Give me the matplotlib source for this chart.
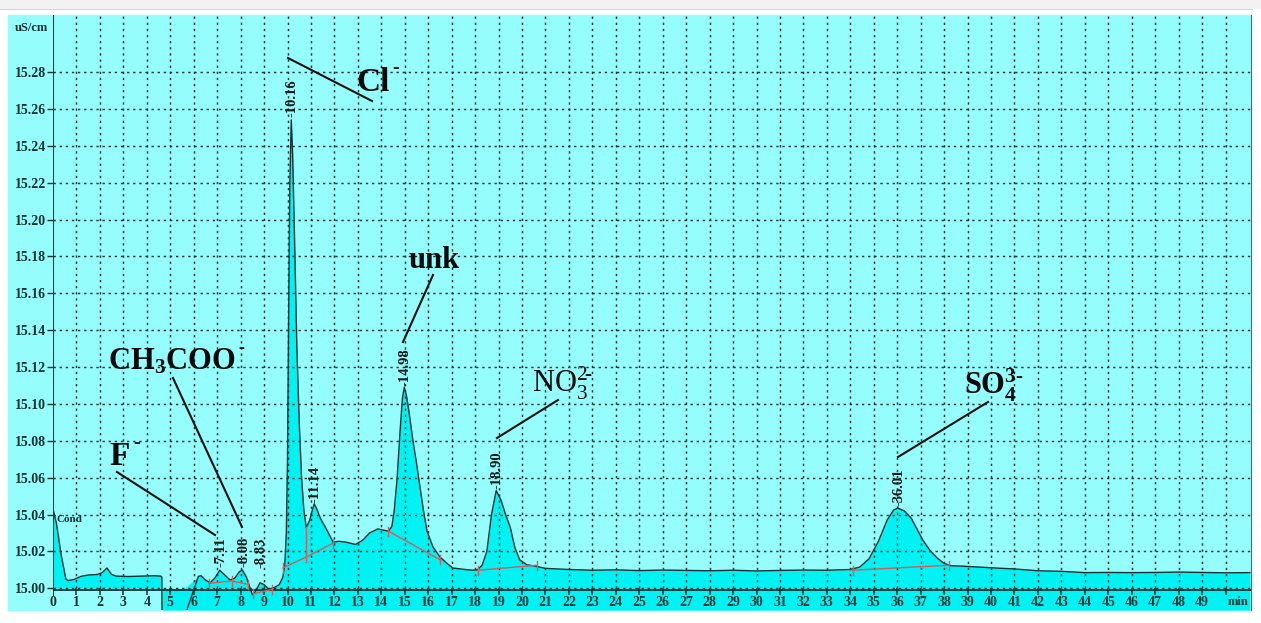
import numpy as np
import matplotlib
matplotlib.use("Agg")
import matplotlib.pyplot as plt

# ---------------- data ----------------
time_min = [0.00, 0.15, 0.35, 0.55, 0.65, 0.90, 1.20, 1.50, 1.90, 2.10, 2.30, 2.50, 2.70, 3.20, 3.80, 4.30, 4.60, 4.64,
            4.66, 5.55, 5.62, 6.20, 6.32, 6.50, 6.70, 6.90, 7.11, 7.30, 7.55, 7.75, 7.95, 8.08, 8.25, 8.38, 8.50, 8.62,
            8.83, 9.00, 9.20, 9.45, 9.65, 9.80, 9.88, 9.95, 10.00, 10.05, 10.10, 10.16, 10.22, 10.30, 10.40, 10.50,
            10.60, 10.70, 10.80, 10.95, 11.05, 11.14, 11.25, 11.40, 11.68, 11.95, 12.20, 12.50, 12.90, 13.20, 13.50,
            13.85, 14.10, 14.30, 14.45, 14.55, 14.67, 14.80, 14.90, 14.98, 15.08, 15.20, 15.35, 15.50, 15.65, 15.80,
            15.95, 16.20, 16.50, 16.80, 17.05, 17.50, 17.90, 18.10, 18.30, 18.50, 18.70, 18.90, 19.10, 19.30, 19.50,
            19.70, 19.90, 20.20, 20.65, 21.00, 22.0, 23.0, 24.0, 25.0, 26.0, 27.0, 28.0, 29.0, 30.0, 31.0, 32.0, 33.0,
            34.0, 34.40, 34.80, 35.20, 35.57, 35.85, 36.03, 36.30, 36.60, 36.85, 37.10, 37.40, 37.70, 38.00, 38.30,
            38.80, 39.50, 40.20, 41.0, 42.0, 43.0, 44.0, 45.0, 46.0, 47.0, 48.0, 49.0, 50.0, 51.04]
signal_uScm = [15.043, 15.035, 15.018, 15.005, 15.0042, 15.0048, 15.0065, 15.0072, 15.0075, 15.0085, 15.0110, 15.0075,
               15.0066, 15.0064, 15.0066, 15.0068, 15.0066, 15.0060,
               14.970, 14.970, 14.985, 15.0065, 15.0068, 15.0045, 15.0030, 15.0055, 15.0098, 15.0075, 15.0045, 15.0055,
               15.0090, 15.0098, 15.0060, 15.0010, 14.9965, 14.9980,
               15.0030, 15.0020, 14.9995, 15.0005, 15.0020, 15.0060, 15.0120, 15.0300, 15.070, 15.150, 15.220, 15.254,
               15.235, 15.190, 15.130, 15.090,
               15.060, 15.042, 15.033, 15.037, 15.042, 15.0458, 15.043, 15.038, 15.0316, 15.0250, 15.0255, 15.0250,
               15.0238, 15.0260, 15.0300,
               15.0322, 15.0315, 15.0310, 15.0335, 15.0420, 15.0590, 15.0850, 15.1030, 15.1090, 15.1040, 15.0940,
               15.0800, 15.0680, 15.0550, 15.0420,
               15.0310, 15.0225, 15.0170, 15.0135, 15.0110, 15.0103, 15.0098, 15.0100, 15.0125, 15.0200, 15.0400,
               15.0530, 15.0480, 15.0400, 15.0330,
               15.0220, 15.0155, 15.0128, 15.0118, 15.0108, 15.0102, 15.0098, 15.0100, 15.0096, 15.0099, 15.0097,
               15.0095, 15.0098, 15.0094, 15.0097, 15.0099, 15.0098,
               15.0102, 15.0115, 15.0160, 15.0255, 15.0370, 15.0425, 15.0435, 15.0420, 15.0380, 15.0320, 15.0260,
               15.0205, 15.0165, 15.0135, 15.0122,
               15.0120, 15.0115, 15.0110, 15.0105, 15.0095, 15.0092, 15.0085, 15.0086, 15.0085, 15.0086, 15.0088,
               15.0086, 15.0084, 15.0085]

# integration baselines (red)
baseline_t = [[6.65, 7.63, 8.30], [8.55, 9.35], [9.80, 10.80, 11.95], [14.30, 16.50], [18.12, 20.65], [34.10, 38.20]]
baseline_v = [[15.0027, 15.0040, 15.0022], [14.9970, 14.9995], [15.0110, 15.0170, 15.0245], [15.0310, 15.0155],
              [15.0098, 15.0125], [15.0098, 15.0125]]

# retention time labels
peak_times = [7.11, 8.08, 8.83, 10.16, 11.14, 14.98, 18.90, 36.01]
peak_labels = ["-7.11", "-8.08", "-8.83", "-10.16", "-11.14", "-14.98", "-18.90", "-36.01"]

y_ticks = [15.00, 15.02, 15.04, 15.06, 15.08, 15.10, 15.12, 15.14, 15.16, 15.18, 15.20, 15.22, 15.24, 15.26, 15.28]
x_ticks = list(range(0, 50))

# ---------------- style ----------------
W, H = 1261, 623
BG = "#96FDFD"
FILL = "#00F2F2"
DARK = "#143232"
GRID = "#1E3434"
RED = "#D85A5A"
SERIF = "Liberation Serif"
plt.rcParams["font.family"] = [SERIF, "DejaVu Serif"]
plt.rcParams["mathtext.fontset"] = "custom"
plt.rcParams["mathtext.rm"] = SERIF
plt.rcParams["mathtext.bf"] = SERIF + ":bold"
plt.rcParams["mathtext.it"] = SERIF + ":italic"


def fx(px):
    return px / W


def fy(py):
    return 1 - py / H


fig = plt.figure(figsize=(W / 100, H / 100), dpi=100, facecolor="white")

# window remnants and cyan panel (behind the axes)
fig.patches.append(plt.Rectangle((0, fy(8)), 1, 8 / H, transform=fig.transFigure, color="#F2F2F2", zorder=-2))
fig.add_artist(plt.Line2D([0, fx(1252)], [fy(8.5), fy(8.5)], transform=fig.transFigure, color="#CFCFCF", lw=0.8,
                          zorder=-2))
fig.patches.append(plt.Rectangle((fx(8), fy(610)), (1251 - 8) / W, (610 - 15) / H, transform=fig.transFigure,
                                 color=BG, zorder=-2))
fig.add_artist(plt.Line2D([fx(1251), fx(1251)], [fy(15), fy(610)], transform=fig.transFigure, color="#5A6A6A",
                          lw=0.8, zorder=-1))

ax = fig.add_axes([fx(53), fy(610), (1251 - 53) / W, (610 - 15) / H])
ax.set_facecolor("none")
XMAX = (1251 - 53) / 23.45
YLOW = 15.00 - (610 - 588.3) / 36.88 * 0.02
YTOP = 15.28 + (72 - 15) / 36.88 * 0.02
ax.set_xlim(0, XMAX)
ax.set_ylim(YLOW, YTOP)
for s in ax.spines.values():
    s.set_visible(False)

t = np.array(time_min)
v = np.array(signal_uScm)

# fills
left = t <= 4.64
ax.fill_between(t[left], 15.0, v[left], color=FILL, lw=0, zorder=1)
right = t >= 4.66
v_fill = np.where(v[right] < YLOW, 15.0, v[right])
ax.fill_between(t[right], YLOW, v_fill, color=FILL, lw=0, zorder=1)
ax.fill_between([4.64, 4.66], YLOW, 15.0, color=FILL, lw=0, zorder=1)

# grid
dot = (0, (1.6, 2.6))
ax.hlines(y_ticks, 0, XMAX, colors=GRID, linestyles=[dot], lw=1.05, zorder=2)
ax.vlines(list(range(1, 51)), 15.0, YTOP, colors=GRID, linestyles=[dot], lw=1.05, zorder=2)

# axes lines
ax.hlines(14.9991, 0, XMAX, colors=DARK, lw=1.3, zorder=3)
ax.vlines(0, 14.996, YTOP, colors=DARK, lw=1.5, zorder=3)
ax.vlines(list(range(0, 51)), 14.9966, 15.0004, colors=DARK, lw=1.1, zorder=3)

# signal
ax.plot(t, v, color=DARK, lw=1.0, zorder=4)

# baselines
tick_h = 0.0025
for bt, bv in zip(baseline_t, baseline_v):
    ax.plot(bt, bv, color=RED, lw=1.0, zorder=5)
    for xx, yy in zip(bt, bv):
        ax.plot([xx, xx], [yy - tick_h, yy + tick_h], color=RED, lw=1.0, zorder=5)
# drop line at valley 10.8
ax.plot([10.80, 10.80], [15.0170, float(np.interp(10.80, t, v))], color=RED, lw=1.0, zorder=5)

# y ticks
ax.set_yticks(y_ticks)
ax.set_yticklabels([f"{y:.2f}" for y in y_ticks], fontsize=10, fontweight="bold", color=DARK)
ax.tick_params(axis="y", length=4.5, width=1.0, color=DARK, pad=0.5, direction="out")
ax.tick_params(axis="x", bottom=False, labelbottom=False)
ax.set_xticks([])

# x tick labels
y_lab = 15.00 - (602 - 588.3) / 36.88 * 0.02
for xt in x_ticks:
    ax.text(xt, y_lab, str(xt), ha="center", va="center", fontsize=10, fontweight="bold", color=DARK, zorder=6)
ax.text(50.55, y_lab, "min", ha="center", va="center", fontsize=9, fontweight="bold", color=DARK, zorder=6)

# units / channel
fig.text(fx(31), fy(28), "uS/cm", ha="center", va="center", fontsize=9, fontweight="bold", color=DARK)
ax.text(0.17, 15.0 + (588.3 - 519) / 36.88 * 0.02, "Cond", ha="left", va="center", fontsize=8,
        fontweight="bold", color=DARK, zorder=6)

# peak labels
offs = [3, 3, 15, 3, 1, 1, 2, 2]
px_per_unit = 36.88 / 0.02
for pt, lab, o in zip(peak_times, peak_labels, offs):
    pv = float(np.interp(pt, t, v)) + o / px_per_unit
    ax.text(pt + 0.05, pv, lab, rotation=90, ha="center", va="bottom", fontsize=10.5, fontweight="bold",
            color="#101818", zorder=6, rotation_mode="default")

# annotation lines (pixel endpoints)
def pline(x0, y0, x1, y1):
    fig.add_artist(plt.Line2D([fx(x0), fx(x1)], [fy(y0), fy(y1)], transform=fig.transFigure, color="#101010",
                              lw=1.5))


pline(117, 472, 215, 535)     # F-
pline(173, 378, 242, 527)     # CH3COO-
pline(288, 58, 372, 101)      # Cl-
pline(433, 275, 403, 342)     # unk
pline(558, 400, 497, 438)     # NO3
pline(988, 402, 898, 457)     # SO4

# ion labels
TXT = "#0A0A0A"
fig.text(fx(109), fy(465), "F", fontsize=24, fontweight="bold", color=TXT, va="baseline", ha="left")
fig.text(fx(133), fy(448), "-", fontsize=15, fontweight="bold", color=TXT, va="baseline", ha="left")
fig.text(fx(356), fy(91), "Cl", fontsize=24, fontweight="bold", color=TXT, va="baseline", ha="left")
fig.text(fx(392), fy(73), "-", fontsize=14, fontweight="bold", color=TXT, va="baseline", ha="left")
fig.text(fx(108), fy(369), r"$\mathbf{CH_3COO}$", fontsize=22, color=TXT, va="baseline", ha="left")
fig.text(fx(238), fy(353), "-", fontsize=13, fontweight="bold", color=TXT, va="baseline", ha="left")
fig.text(fx(409), fy(268), "unk", fontsize=22, fontweight="bold", color=TXT, va="baseline", ha="left")
fig.text(fx(532), fy(392), r"$\mathrm{NO}_3^{2\!\text{-}}$", fontsize=22, color=TXT, va="baseline", ha="left")
fig.text(fx(964), fy(395), r"$\mathbf{SO}_\mathbf{4}^{\mathbf{3}\text{-}}$", fontsize=22, color=TXT,
         va="baseline", ha="left")

fig.savefig("out.png", dpi=100, facecolor="white")
